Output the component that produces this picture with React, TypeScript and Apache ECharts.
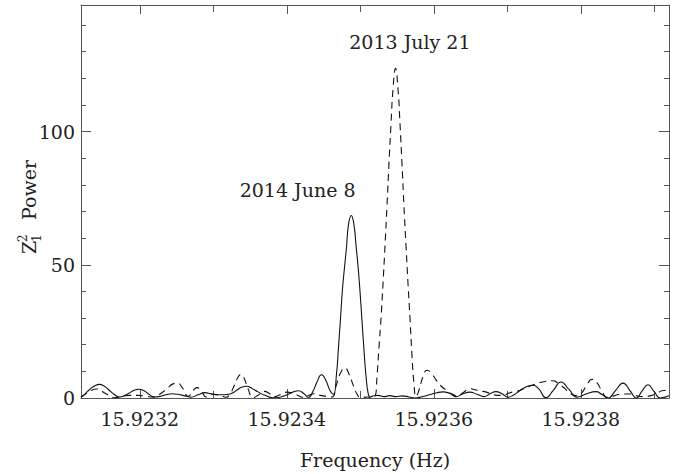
import React, { useEffect, useRef } from "react";
import * as echarts from "echarts";

// Frequency (Hz) and Z_1^2 power, solid curve: 2014 June 8
const solidFreq = [
  15.92312, 15.9231254, 15.9231322, 15.9231391, 15.9231452, 15.9231513, 15.9231581, 15.9231649,
  15.9231724, 15.9231785, 15.9231853, 15.9231921, 15.9231993, 15.9232057, 15.9232125, 15.9232193,
  15.9232275, 15.9232356, 15.9232438, 15.923252, 15.9232615, 15.9232697, 15.9232792, 15.9232887,
  15.9232969, 15.923305, 15.9233146, 15.9233227, 15.9233309, 15.9233377, 15.9233454, 15.9233527,
  15.9233608, 15.9233703, 15.9233812, 15.9233907, 15.9234003, 15.9234084, 15.9234159, 15.9234234,
  15.9234295, 15.9234356, 15.9234411, 15.9234472, 15.9234533, 15.9234588, 15.9234635, 15.9234676,
  15.9234703, 15.9234731, 15.9234758, 15.9234785, 15.9234812, 15.9234839, 15.9234877, 15.9234914,
  15.9234941, 15.9234969, 15.9234996, 15.9235023, 15.923505, 15.9235077, 15.9235105, 15.9235132,
  15.9235159, 15.9235241, 15.9235322, 15.9235404, 15.9235486, 15.9235567, 15.9235662, 15.9235744,
  15.9235839, 15.9235948, 15.9236043, 15.9236125, 15.923622, 15.9236302, 15.9236397, 15.9236492,
  15.9236588, 15.9236683, 15.9236764, 15.9236846, 15.9236928, 15.9237009, 15.9237091, 15.9237173,
  15.9237268, 15.923735, 15.9237431, 15.9237526, 15.9237628, 15.923773, 15.9237839, 15.9237948,
  15.9238071, 15.9238207, 15.9238288, 15.923837, 15.9238472, 15.9238574, 15.9238669, 15.9238758,
  15.9238832, 15.9238914, 15.9238996, 15.9239084, 15.92392,
];
const solidPower = [
  0.3, 1.5, 3.3, 4.6, 5.1, 4.5, 3.0, 1.4,
  0.4, 0.8, 1.8, 2.9, 3.3, 2.7, 1.4, 0.4,
  0.6, 1.2, 1.6, 1.4, 0.8, 0.3, 1.2, 2.0,
  1.6, 1.2, 1.2, 1.5, 2.7, 3.9, 4.4, 3.6,
  2.3, 1.0, 0.1, 0.3, 1.2, 2.2, 2.7, 1.6,
  0.2, 2.5, 6.0, 8.7, 6.5, 2.8, 1.4, 9,
  19, 30, 41, 49, 56.5, 65, 68.5, 65,
  57.5, 49.5, 40, 29, 18, 8.5, 2, 0.4,
  0.6, 1.0, 0.5, 0.9, 0.5, 0.8, 0.4, 0.0,
  0.5, 1.3, 2.0, 2.3, 1.7, 0.5, 1.6, 2.2,
  1.4, 0.5, 1.6, 2.4, 1.6, 0.3, 1.2, 2.8,
  4.3, 4.8, 3.3, 0.1, 3.0, 6.0, 3.2, 0.3,
  1.5, 2.4, 1.3, 0.0, 2.8, 5.6, 2.8, 0.0,
  2.6, 5.0, 2.5, 0.0, 0.8,
];

// Dashed curve: 2013 July 21
const dashedFreq = [
  15.92312, 15.9231295, 15.9231404, 15.923154, 15.9231653, 15.9231758, 15.9231867, 15.9231976,
  15.9232084, 15.923218, 15.9232275, 15.923237, 15.9232452, 15.9232513, 15.9232574, 15.9232663,
  15.9232724, 15.9232778, 15.9232839, 15.9232901, 15.9232982, 15.9233078, 15.9233173, 15.9233227,
  15.9233282, 15.9233336, 15.9233377, 15.9233418, 15.9233472, 15.923354, 15.9233608, 15.923369,
  15.9233758, 15.9233812, 15.9233907, 15.9234003, 15.9234098, 15.923418, 15.9234234, 15.9234302,
  15.923437, 15.9234452, 15.9234533, 15.9234615, 15.9234676, 15.9234724, 15.9234792, 15.9234846,
  15.9234901, 15.9234955, 15.9235009, 15.9235091, 15.9235159, 15.92352, 15.9235227, 15.9235254,
  15.9235282, 15.9235309, 15.9235336, 15.9235363, 15.923539, 15.9235418, 15.9235445, 15.9235479,
  15.9235513, 15.923554, 15.9235567, 15.9235594, 15.9235622, 15.9235649, 15.9235676, 15.9235703,
  15.9235731, 15.9235758, 15.9235799, 15.9235853, 15.9235907, 15.9235962, 15.923603, 15.9236098,
  15.9236179, 15.9236248, 15.9236316, 15.9236397, 15.9236492, 15.9236574, 15.9236669, 15.9236764,
  15.923686, 15.9236941, 15.9237037, 15.9237132, 15.9237227, 15.9237336, 15.9237445, 15.923754,
  15.9237622, 15.923769, 15.9237785, 15.9237867, 15.9237948, 15.9238016, 15.9238084, 15.9238152,
  15.923822, 15.9238288, 15.9238356, 15.9238452, 15.923856, 15.9238669, 15.9238764, 15.9238846,
  15.9238941, 15.9239023, 15.9239118, 15.92392,
];
const dashedPower = [
  0.3, 2.0, 3.4, 1.6, 0.1, 0.6, 1.0, 1.0,
  0.6, 0.3, 1.5, 3.5, 5.3, 5.6, 4.0, 0.6,
  2.8, 3.9, 2.6, 0.4, 1.4, 1.2, 0.3, 1.5,
  4.5, 7.8, 8.9, 7.5, 3.5, 0.1, 1.0, 2.5,
  1.8, 0.4, 1.2, 2.2, 1.6, 0.6, 0.2, 1.0,
  1.6, 1.0, 0.6, 0.4, 5.0, 9.0, 11.3, 9.0,
  5.0, 1.5, 0.1, 0.4, 0.2, 0.5, 8, 19,
  30, 43, 57, 72, 88, 103, 116, 123.7,
  116, 103, 88, 72, 57, 43, 30, 16,
  5, 0.5, 3, 8, 10.4, 9.5, 6.8, 4.5,
  2.8, 1.5, 0.8, 2.0, 3.5, 3.0, 2.5, 1.8,
  1.0, 1.0, 2.0, 2.5, 3.5, 4.8, 5.8, 6.3,
  6.5, 5.5, 3.5, 1.5, 0.8, 2.0, 5.0, 7.0,
  5.8, 2.5, 0.3, 0.8, 1.5, 1.5, 0.8, 0.5,
  0.8, 1.6, 2.8, 3.0,
];

const xRange = [15.92312, 15.92392];
const yRange = [0, 147.5];
const xMajorTicks = [15.9232, 15.9234, 15.9236, 15.9238];
const xMinorTicks = [15.9233, 15.9235, 15.9237, 15.9239];
const yMajorTicks = [0, 50, 100];
const yMinorTicks = [10, 20, 30, 40, 60, 70, 80, 90, 110, 120, 130, 140];

const labelTexts = ["2014 June 8", "2013 July 21"];
const labelFreq = [15.9234147, 15.9235675];
const labelPower = [78, 133.8];

const FONT = "DejaVu Serif";
const INK = "#222";
const FRAME = "#555";

export default function App() {
  const ref = useRef<HTMLDivElement>(null);

  useEffect(() => {
    const chart = echarts.init(ref.current!, null, { renderer: "svg" });
    const lineStyle = { color: FRAME, width: 1 };
    const xAxisBase = (position: string, ticks: number[], len: number, showLine: boolean, showLabel: boolean) => ({
      type: "value",
      position,
      min: xRange[0],
      max: xRange[1],
      axisLine: { show: showLine, onZero: false, lineStyle },
      axisTick: { show: true, inside: true, length: len, customValues: ticks, lineStyle },
      axisLabel: showLabel
        ? {
            show: true,
            customValues: ticks,
            formatter: (v: number) => v.toFixed(4),
            fontFamily: FONT,
            fontSize: 19,
            color: INK,
            margin: 11,
          }
        : { show: false },
      splitLine: { show: false },
    });
    const yAxisBase = (position: string, ticks: number[], len: number, showLine: boolean, showLabel: boolean) => ({
      type: "value",
      position,
      min: yRange[0],
      max: yRange[1],
      axisLine: { show: showLine, onZero: false, lineStyle },
      axisTick: { show: true, inside: true, length: len, customValues: ticks, lineStyle },
      axisLabel: showLabel
        ? {
            show: true,
            customValues: ticks,
            formatter: (v: number) => String(v),
            fontFamily: FONT,
            fontSize: 19,
            color: INK,
            margin: 6,
          }
        : { show: false },
      splitLine: { show: false },
    });

    chart.setOption({
      animation: false,
      backgroundColor: "#fff",
      grid: { left: 81, right: 12, top: 5, bottom: 76 },
      xAxis: [
        xAxisBase("bottom", xMajorTicks, 9, true, true),
        xAxisBase("bottom", xMinorTicks, 7, false, false),
        xAxisBase("top", xMajorTicks, 9, true, false),
        xAxisBase("top", xMinorTicks, 7, false, false),
      ],
      yAxis: [
        yAxisBase("left", yMajorTicks, 10, true, true),
        yAxisBase("left", yMinorTicks, 5, false, false),
        yAxisBase("right", yMajorTicks, 10, true, false),
        yAxisBase("right", yMinorTicks, 5, false, false),
      ],
      series: [
        {
          type: "line",
          name: "2014 June 8",
          xAxisIndex: 0,
          yAxisIndex: 0,
          data: solidFreq.map((f, i) => [f, solidPower[i]]),
          showSymbol: false,
          smooth: 0.5,
          lineStyle: { color: "#111", width: 1.1 },
        },
        {
          type: "line",
          name: "2013 July 21",
          xAxisIndex: 0,
          yAxisIndex: 0,
          data: dashedFreq.map((f, i) => [f, dashedPower[i]]),
          showSymbol: false,
          smooth: 0.5,
          lineStyle: { color: "#111", width: 1.1, type: [7, 5] },
        },
      ],
    });

    const annots = labelTexts.map((t, i) => {
      const p = chart.convertToPixel({ xAxisIndex: 0, yAxisIndex: 0 }, [labelFreq[i], labelPower[i]]) as number[];
      return {
        type: "text",
        x: p[0],
        y: p[1],
        style: { text: t, fill: INK, font: `19px "${FONT}"`, textAlign: "center", textVerticalAlign: "middle" },
      };
    });

    chart.setOption({
      graphic: [
        ...annots,
        {
          type: "text",
          x: 375,
          y: 460,
          style: {
            text: "Frequency (Hz)",
            fill: INK,
            font: `19px "${FONT}"`,
            textAlign: "center",
            textVerticalAlign: "middle",
          },
        },
        {
          type: "group",
          x: 29,
          y: 254,
          rotation: Math.PI / 2,
          children: [
            { type: "text", x: 0, y: 0, style: { text: "Z", fill: INK, font: `19px "${FONT}"`, textAlign: "left", textVerticalAlign: "middle" } },
            { type: "text", x: 12, y: -6, style: { text: "2", fill: INK, font: `12px "${FONT}"`, textAlign: "left", textVerticalAlign: "middle" } },
            { type: "text", x: 12, y: 8, style: { text: "1", fill: INK, font: `12px "${FONT}"`, textAlign: "left", textVerticalAlign: "middle" } },
            { type: "text", x: 34, y: 0, style: { text: "Power", fill: INK, font: `19px "${FONT}"`, textAlign: "left", textVerticalAlign: "middle" } },
          ],
        },
      ],
    });

    return () => chart.dispose();
  }, []);

  return (
    <div
      ref={ref}
      style={{ position: "fixed", left: 0, top: 0, width: 681, height: 474, background: "#fff" }}
    />
  );
}
